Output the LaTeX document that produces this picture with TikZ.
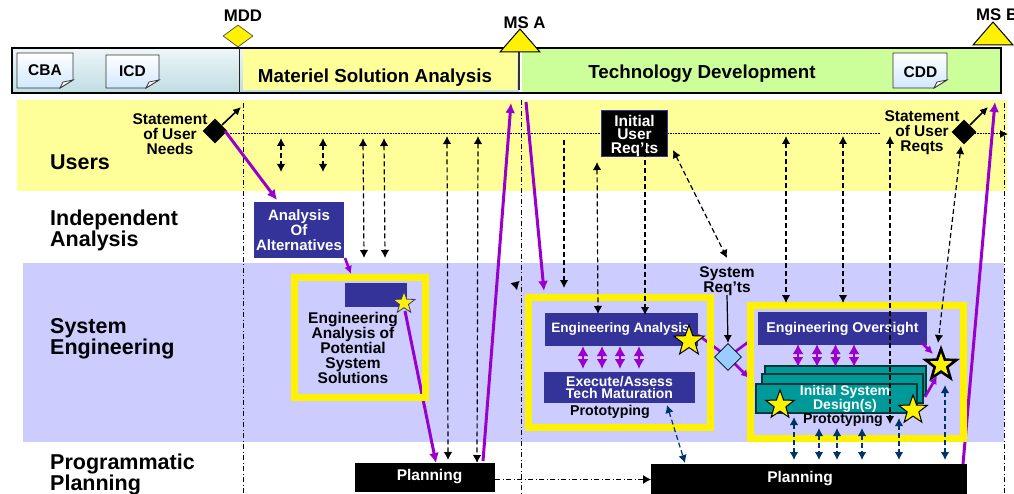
\documentclass[tikz,border=0pt]{standalone}
\usepackage{fontspec}
\setmainfont{Liberation Sans}
\usetikzlibrary{arrows.meta,shapes.geometric,shapes.symbols}
\definecolor{bandY}{HTML}{FFFF99}
\definecolor{bandL}{HTML}{CCCCFF}
\definecolor{purp}{HTML}{9900CC}
\definecolor{navyb}{HTML}{333399}
\definecolor{teal2}{HTML}{009999}
\definecolor{teald}{HTML}{003838}
\definecolor{navya}{HTML}{003366}
\definecolor{lgreen}{HTML}{CCFF99}
\definecolor{ltop}{HTML}{EEF6F8}
\definecolor{lbot}{HTML}{BFDDE2}
\definecolor{dia}{HTML}{99CCFF}
\newcommand{\fs}[2]{\fontsize{#1}{#2}\bfseries\selectfont}
\newcommand{\docshape}[4]{% x1 y1 x2 y2
  \path[draw=black!80,line width=.9pt,top color=white,bottom color=dia!45]
    (#1,#2) -- (#3,#2) -- (#3,#4-8) -- (#3-13,#4) -- (#1,#4) -- cycle;
  \path[draw=black!80,line width=.7pt,fill=white]
    (#3,#4-8) -- (#3-10,#4-6) -- (#3-13,#4) -- cycle;}
\tikzset{
  x=1pt,y=-1pt,
  swim/.style={anchor=base west,font=\fs{21.5}{21},align=left,inner sep=0pt},
  small/.style={font=\fs{15.5}{15},align=center,inner sep=0pt},
  msl/.style={font=\fs{16.8}{15},inner sep=0pt},
  docl/.style={font=\fs{15.5}{15},inner sep=0pt},
  whitebox/.style={fill=navyb,text=white,font=\fs{14}{12.5},align=center,inner sep=0pt},
  plan/.style={fill=black,text=white,inner sep=0pt},
  frame/.style={draw=yellow,line width=6.5pt,miter limit=10},
  purpline/.style={draw=purp,line width=3pt,-{Latex[length=10pt,width=10pt]}},
  purpshort/.style={draw=purp,line width=2.6pt,-{Latex[length=8pt,width=8pt]}},
  purpplain/.style={draw=purp,line width=2.6pt},
  purpdouble/.style={draw=purp,line width=2.4pt,{Latex[length=10pt,width=11pt]}-{Latex[length=10pt,width=11pt]}},
  blkdash/.style={draw=black,line width=1.2pt,dash pattern=on 5pt off 3pt},
  both/.style={blkdash,{Latex[length=8pt,width=8.5pt]}-{Latex[length=8pt,width=8.5pt]}},
  tohead/.style={blkdash,-{Latex[length=8pt,width=8.5pt]}},
  navyboth/.style={draw=navya,line width=1.2pt,dash pattern=on 5pt off 3pt,{Latex[length=8pt,width=8.5pt]}-{Latex[length=8pt,width=8.5pt]}},
  solidarrow/.style={draw=black,line width=1.6pt,-{Latex[length=8pt,width=8pt]}},
  dashdot/.style={draw=black,line width=1pt,dash pattern=on 5pt off 2.5pt on 1pt off 2.5pt},
  dotline/.style={draw=black,line width=1pt,dash pattern=on 1pt off .6pt},
  ystar/.style={star,star points=5,star point ratio=2.45,fill=yellow,draw=black,line width=1pt,inner sep=0pt},
  stack/.style={draw=teald,line width=1.3pt,fill=teal2},
  blackdia/.style={diamond,fill=black,minimum width=25pt,minimum height=25pt,inner sep=0pt},
}
\begin{document}
\begin{tikzpicture}
\useasboundingbox (0,0) rectangle (1014,494);
\clip (0,0) rectangle (1014,494);
% bands
\fill[bandY] (17,100) rectangle (1007,191);
\fill[bandL] (23,263) rectangle (1004,442);
% phase bar
\path[top color=ltop,bottom color=lbot] (12,48) rectangle (519,93);
\fill[bandY] (243,49) rectangle (517,90);
\fill[lgreen] (522,48) rectangle (1000,92);
\draw[black,line width=2pt] (12,48) rectangle (1001,93);
\draw[black!85,line width=1.6pt] (239.5,48) -- (239.5,93);
\draw[black!80,line width=2.2pt] (519,50) -- (519,90);
% milestones
\node[diamond,draw=black!70,fill=yellow,line width=.7pt,minimum width=30pt,minimum height=22pt,inner sep=0pt] (mdd) at (238,36) {};
\path[draw=black,fill=yellow,line width=1pt] (520,29) -- (540,52) -- (500,52) -- cycle;
\path[draw=black,fill=yellow,line width=1pt] (993,22) -- (1013,45) -- (973,45) -- cycle;
\node[msl] (mddl) at (243,16) {MDD};
\node[msl] (msal) at (524.5,22.5) {MS A};
\node[msl,anchor=west] (msbl) at (976,15) {MS B};
\node[font=\fs{18.8}{18},inner sep=0pt] (msa) at (375,77.5) {Materiel Solution Analysis};
\node[font=\fs{18.8}{18},inner sep=0pt] (td) at (702,73.5) {Technology Development};
% documents
\docshape{17}{53}{73}{88}
\node[docl] (cba) at (45,70) {CBA};
\docshape{106}{55}{159}{88}
\node[docl] (icd) at (132.5,71) {ICD};
\docshape{893}{53}{947}{88}
\node[docl] (cdd) at (920.5,72) {CDD};
% milestone vertical lines
\coordinate (va) at (243,103); \coordinate (vb) at (243,494);
\coordinate (vc) at (521,100); \coordinate (vd) at (521,494);
\coordinate (ve) at (1004,103); \coordinate (vf) at (1004,494);
\draw[dashdot] (va) -- (vb);
\draw[dashdot] (vc) -- (vd);
\draw[dashdot] (ve) -- (vf);
% user line
\coordinate (ua) at (225,134); \coordinate (ub) at (880,134);
\coordinate (uc) at (975,134); \coordinate (ud) at (1008,134);
\draw[dotline] (ua) -- (ub);
\draw[dotline,-{Latex[length=8pt,width=8pt]}] (uc) -- (ud);
% boxes that others connect to
\node[blackdia] (sun) at (215,131) {};
\node[blackdia] (sur) at (964,132) {};
\node[whitebox,minimum width=90pt,minimum height=56pt,font=\fs{15}{15}] (aoa) at (299,230) {Analysis\\Of\\Alternatives};
\node[plan,minimum width=140pt,minimum height=29pt,font=\fs{15.5}{15}] (plan1) at (425,477.5) {\hspace*{9pt}\raisebox{-2.5pt}[0pt][0pt]{Planning}};
\node[plan,minimum width=316pt,minimum height=30pt,font=\fs{15.5}{15}] (plan2) at (809,479) {\hspace*{-18pt}\raisebox{-3.5pt}[0pt][0pt]{Planning}};
% long purple connectors (beneath the frames)
\coordinate (p1a) at (225,131); \coordinate (p1b) at (277,200);
\draw[purpline] (p1a) -- (p1b);
\coordinate (p2a) at (345,258); \coordinate (p2b) at (351,274);
\draw[purpshort] (p2a) -- (p2b);
\coordinate (p3a) at (405,311); \coordinate (p3b) at (436,463);
\draw[purpline] (p3a) -- (p3b);
\coordinate (p4a) at (483,461); \coordinate (p4b) at (511,103);
\draw[purpline] (p4a) -- (p4b);
\coordinate (p5a) at (526,102); \coordinate (p5b) at (544,291);
\draw[purpline] (p5a) -- (p5b);
\coordinate (p6a) at (963,464); \coordinate (p6b) at (995,102);
\draw[purpline] (p6a) -- (p6b);
\coordinate (p7a) at (698,335); \coordinate (p7b) at (728,357);
\draw[purpplain] (p7a) -- (p7b);
\coordinate (p8a) at (728,357); \coordinate (p8b) at (751,340);
\draw[purpplain] (p8a) -- (p8b);
\coordinate (p9b) at (749,378);
\draw[purpshort] (p8a) -- (p9b);
% frames
\draw[frame] (294.5,277.5) rectangle (425.5,397.5);
\draw[frame] (528.5,297.5) rectangle (710.5,427.5);
\draw[frame] (750.5,305.5) rectangle (963.5,438.5);
% inner boxes
\node[fill=navyb,minimum width=62pt,minimum height=24pt,inner sep=0pt] (eabox) at (376,295) {};
\node[ystar,draw=navyb,minimum size=23pt,line width=.8pt] (s1) at (404,303) {};
\node[small] (eatext) at (353,347.5) {Engineering\\Analysis of\\Potential\\System\\Solutions};
\node[whitebox,minimum width=153pt,minimum height=33pt,font=\fs{13.6}{15}] (ea) at (621.5,329.5) {\hspace*{-2pt}Engineering Analysis};
\node[whitebox,minimum width=151pt,minimum height=31pt] (ex) at (619.5,387.5) {Execute/Assess\\Tech Maturation};
\node[small,font=\fs{14.2}{15}] (pr1) at (610,412) {Prototyping};
\node[whitebox,minimum width=169pt,minimum height=33pt,font=\fs{14.2}{15}] (eo) at (842.5,328.5) {Engineering Oversight};
\node[stack,minimum width=161pt,minimum height=29pt,inner sep=0pt] (st3) at (845.5,380.5) {};
\node[stack,minimum width=161pt,minimum height=29pt,inner sep=0pt] (st2) at (842.5,388.5) {};
\node[stack,minimum width=161pt,minimum height=29pt,text=white,font=\fs{14}{12.5},align=center,inner sep=0pt] (st1) at (836.5,398.5) {\hspace*{17pt}Initial System\\\hspace*{17pt}Design(s)};
\node[small,font=\fs{14.2}{15}] (pr2) at (843,420) {Prototyping};
% labels
\node[swim] (lu) at (50,170) {Users};
\node[swim] (li) at (50,247) {Independent\\Analysis};
\node[swim] (ls) at (50,354) {System\\Engineering};
\node[swim] (lp) at (50,490) {Programmatic\\Planning};
\node[small] (tsun) at (170,134) {Statement\\of User\\Needs};
\node[small] (tsur) at (922,133) {Statement\\of User\\Reqts};
\node[small] (tsr) at (727,281.5) {System\\Req’ts};
\node[fill=black,draw=navyb,line width=1pt,text=white,font=\fs{15.5}{13.5},align=center,minimum width=66pt,minimum height=46pt,inner sep=0pt] (iur) at (634.5,133.5) {\rule{0pt}{16pt}Initial\\User\\Req’ts};
\node[diamond,draw=black,fill=dia,line width=.8pt,minimum width=27pt,minimum height=27pt,inner sep=0pt] (sysd) at (728,357) {};
% solid black connectors
\coordinate (b1a) at (222,125); \coordinate (b1b) at (241,107);
\draw[solidarrow] (b1a) -- (b1b);
\coordinate (b2a) at (970,125); \coordinate (b2b) at (988,107);
\draw[solidarrow] (b2a) -- (b2b);
\coordinate (b3a) at (727,295);
\draw[draw=black,line width=1.2pt,-{Latex[length=8pt,width=8pt]}] (b3a) -- (sysd.north);
% dashed black connectors
\coordinate (d1a) at (281,138); \coordinate (d1b) at (281,172);
\draw[both] (d1a) -- (d1b);
\coordinate (d2a) at (323,138); \coordinate (d2b) at (323,172);
\draw[both] (d2a) -- (d2b);
\coordinate (d3a) at (363,138); \coordinate (d3b) at (364,258);
\draw[both] (d3a) -- (d3b);
\coordinate (d4a) at (384,138); \coordinate (d4b) at (385,258);
\draw[both] (d4a) -- (d4b);
\coordinate (d5a) at (447,136); \coordinate (d5b) at (448,460);
\draw[both] (d5a) -- (d5b);
\coordinate (d6a) at (478,136); \coordinate (d6b) at (477,463);
\draw[both] (d6a) -- (d6b);
\coordinate (d7a) at (564,140); \coordinate (d7b) at (564,288);
\draw[tohead] (d7a) -- (d7b);
\coordinate (d8a) at (597,162); \coordinate (d8b) at (598,314);
\draw[both] (d8a) -- (d8b);
\coordinate (d9a) at (645,144); \coordinate (d9b) at (645,315);
\draw[tohead] (d9a) -- (d9b);
\coordinate (d10a) at (673,150); \coordinate (d10b) at (727,258);
\draw[both] (d10a) -- (d10b);
\coordinate (d11a) at (786,136); \coordinate (d11b) at (786,303);
\draw[both] (d11a) -- (d11b);
\coordinate (d12a) at (843,136); \coordinate (d12b) at (843,303);
\draw[both] (d12a) -- (d12b);
\coordinate (d13a) at (890,136); \coordinate (d13b) at (890,424);
\draw[both] (d13a) -- (d13b);
\coordinate (d14a) at (961,146); \coordinate (d14b) at (938,343);
\draw[both] (d14a) -- (d14b);
\coordinate (d15a) at (515,282); \coordinate (d15b) at (517,290);
\draw[draw=black,line width=.1pt,-{Latex[length=8pt,width=9pt]}] (d15a) -- (d15b);
% plan to plan
\coordinate (h1a) at (495,479.5); \coordinate (h1b) at (651,479.5);
\draw[dashdot,-{Latex[length=8pt,width=9pt]}] (h1a) -- (h1b);
% navy connectors
\coordinate (n0a) at (667,405); \coordinate (n0b) at (685,463);
\draw[navyboth] (n0a) -- (n0b);
\coordinate (n1a) at (794,417); \coordinate (n1b) at (794,460);
\draw[navyboth] (n1a) -- (n1b);
\coordinate (n2a) at (819,428); \coordinate (n2b) at (819,460);
\draw[navyboth] (n2a) -- (n2b);
\coordinate (n3a) at (837,428); \coordinate (n3b) at (837,460);
\draw[navyboth] (n3a) -- (n3b);
\coordinate (n4a) at (862,428); \coordinate (n4b) at (862,460);
\draw[navyboth] (n4a) -- (n4b);
\coordinate (n5a) at (899,418); \coordinate (n5b) at (899,460);
\draw[navyboth] (n5a) -- (n5b);
\coordinate (n6a) at (945,385); \coordinate (n6b) at (945,460);
\draw[navyboth] (n6a) -- (n6b);
% purple double arrows
\coordinate (q1a) at (583,346); \coordinate (q1b) at (583,369);
\draw[purpdouble] (q1a) -- (q1b);
\coordinate (q2a) at (602,346); \coordinate (q2b) at (602,369);
\draw[purpdouble] (q2a) -- (q2b);
\coordinate (q3a) at (620,346); \coordinate (q3b) at (620,369);
\draw[purpdouble] (q3a) -- (q3b);
\coordinate (q4a) at (639,346); \coordinate (q4b) at (639,369);
\draw[purpdouble] (q4a) -- (q4b);
\coordinate (r1a) at (798,344); \coordinate (r1b) at (798,367);
\draw[purpdouble] (r1a) -- (r1b);
\coordinate (r2a) at (817,344); \coordinate (r2b) at (817,367);
\draw[purpdouble] (r2a) -- (r2b);
\coordinate (r3a) at (835.5,344); \coordinate (r3b) at (835.5,367);
\draw[purpdouble] (r3a) -- (r3b);
\coordinate (r4a) at (854,344); \coordinate (r4b) at (854,367);
\draw[purpdouble] (r4a) -- (r4b);
% stars
\node[ystar,minimum size=32pt] (s2) at (689,341) {};
\node[ystar,minimum size=30pt] (s3) at (780,405) {};
\node[ystar,minimum size=30pt] (s4) at (913,410) {};
\node[star,star points=5,star point ratio=2.45,fill=black,minimum size=40pt,inner sep=0pt] (s5) at (941,365) {};
\node[star,star points=5,star point ratio=2.45,fill=yellow,minimum size=24pt,inner sep=0pt] (s6) at (941,365) {};
% short purple into the big star
\coordinate (t1a) at (922,343); \coordinate (t1b) at (933,354);
\draw[purpshort] (t1a) -- (t1b);
\coordinate (t2a) at (925,397); \coordinate (t2b) at (937,376);
\draw[purpshort] (t2a) -- (t2b);
\end{tikzpicture}
\end{document}
